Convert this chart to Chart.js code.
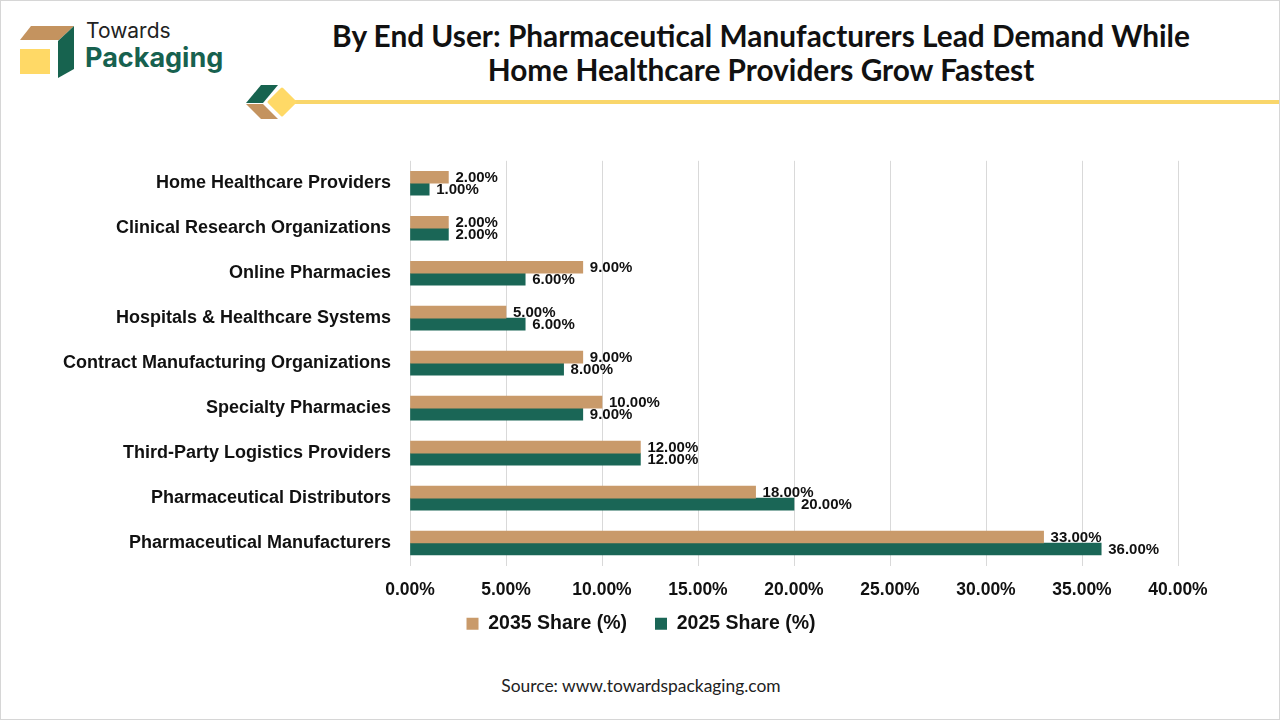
<!DOCTYPE html>
<html>
<head>
<meta charset="utf-8">
<script src="https://cdn.jsdelivr.net/npm/chart.js@4.4.1/dist/chart.umd.min.js"></script>
<style>
  html, body { margin: 0; padding: 0; background: #fff; }
  #page { position: relative; width: 1280px; height: 720px; overflow: hidden; background: #fff; box-sizing: border-box; border: 1px solid #d6d6d6; }
  #title { position: absolute; left: 160px; width: 1200px; top: 18px; text-align: center; font-family: Lato, "Liberation Sans", sans-serif; font-weight: 700; font-size: 29.8px; line-height: 34px; color: #111; }
  #source { position: absolute; left: 0; width: 1280px; top: 674px; text-align: center; font-family: Lato, "Liberation Sans", sans-serif; font-size: 17.4px; color: #222; }
  #chartBox { position: absolute; left: 0; top: 130px; width: 1280px; height: 541px; }
  #logoT { position: absolute; left: 85px; top: 17px; font-family: Inter, sans-serif; font-weight: 400; font-size: 21px; color: #222; }
  #logoP { position: absolute; left: 84px; top: 40px; font-family: Inter, sans-serif; font-weight: 700; font-size: 27px; color: #17614f; }
</style>
</head>
<body>
<div id="page">
  <svg width="1280" height="140" style="position:absolute;left:0;top:0">
    <polygon points="30,25 73,25 58,39 19,39" fill="#c4935f"/>
    <rect x="19" y="48" width="30" height="25" fill="#ffd966"/>
    <polygon points="57,40 73,25 73,68 57,77" fill="#17634f"/>
    <rect x="290" y="99" width="990" height="4" fill="#f9d66b"/>
    <polygon points="260,84 277,84 262,102 245,102" fill="#17634f"/>
    <polygon points="245,103 262,103 277,118 260,118" fill="#c4935f"/>
    <polygon points="281,88 294,101 281,114 268,101" fill="#ffd966" stroke="#ffd966" stroke-width="3" stroke-linejoin="round"/>
  </svg>
  <div id="logoT">Towards</div>
  <div id="logoP">Packaging</div>
  <div id="title">By End User: Pharmaceutical Manufacturers Lead Demand While<br>Home Healthcare Providers Grow Fastest</div>
  <div id="chartBox"><canvas id="c"></canvas></div>
  <div id="source">Source: www.towardspackaging.com</div>
</div>
<script>
const categories = [
  "Home Healthcare Providers",
  "Clinical Research Organizations",
  "Online Pharmacies",
  "Hospitals & Healthcare Systems",
  "Contract Manufacturing Organizations",
  "Specialty Pharmacies",
  "Third-Party Logistics Providers",
  "Pharmaceutical Distributors",
  "Pharmaceutical Manufacturers"
];
const share2035 = [2, 2, 9, 5, 9, 10, 12, 18, 33];
const share2025 = [1, 2, 6, 6, 8, 9, 12, 20, 36];
const seriesNames = ["2035 Share (%)", "2025 Share (%)"];
const axisMin = 0, axisMax = 40, axisStep = 5;

const TAN = "#c99a6a";
const GREEN = "#1a6656";
const LABEL_FONT = "'Liberation Sans', Arial, sans-serif";
const CHART_TOP = 130;
const LEGEND_PAD = 28;
const LEGEND_FONT = 19.5;

const valueLabels = {
  id: "valueLabels",
  afterDatasetsDraw(chart) {
    const ctx = chart.ctx;
    ctx.save();
    ctx.font = "bold 15px " + LABEL_FONT;
    ctx.fillStyle = "#111";
    ctx.textAlign = "left";
    ctx.textBaseline = "middle";
    chart.data.datasets.forEach((ds, di) => {
      const meta = chart.getDatasetMeta(di);
      meta.data.forEach((bar, i) => {
        ctx.fillText(ds.data[i].toFixed(2) + "%", bar.x + 7, bar.y + 1);
      });
    });
    ctx.restore();
  }
};

const legendPlace = {
  id: "legendPlace",
  afterLayout(chart) {
    const lg = chart.legend;
    if (!lg) return;
    const h = lg.bottom - lg.top;
    lg.left = 0;
    lg.right = chart.width;
    lg.top = (622 - CHART_TOP) - LEGEND_PAD - 9;
    lg.bottom = lg.top + h;
  }
};

new Chart(document.getElementById("c"), {
  type: "bar",
  data: {
    labels: categories,
    datasets: [
      { label: seriesNames[0], data: share2035, backgroundColor: TAN, barThickness: 12 },
      { label: seriesNames[1], data: share2025, backgroundColor: GREEN, barThickness: 12 }
    ]
  },
  options: {
    indexAxis: "y",
    responsive: true,
    maintainAspectRatio: false,
    animation: false,
    layout: { padding: { top: 10, right: 103, bottom: 0, left: 0 } },
    scales: {
      x: {
        min: axisMin, max: axisMax,
        ticks: { stepSize: axisStep, callback: v => Number(v).toFixed(2) + "%", color: "#111", font: { family: LABEL_FONT, weight: "bold", size: 17.5 }, padding: 14 },
        grid: { color: "#d9d9d9", drawTicks: false },
        border: { display: false }
      },
      y: {
        afterFit(scale) { scale.width = 409; },
        ticks: { color: "#111", font: { family: LABEL_FONT, weight: "bold", size: 18 }, padding: 19 },
        grid: { display: false, drawTicks: false },
        border: { display: false }
      }
    },
    plugins: {
      legend: {
        position: "bottom",
        labels: { boxWidth: 12, boxHeight: 12, color: "#111", font: { family: LABEL_FONT, weight: "bold", size: LEGEND_FONT }, padding: LEGEND_PAD }
      },
      tooltip: { enabled: false }
    }
  },
  plugins: [valueLabels, legendPlace]
});
</script>
</body>
</html>
